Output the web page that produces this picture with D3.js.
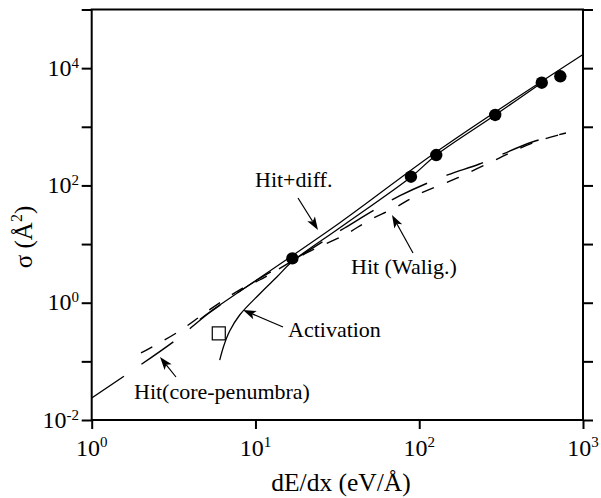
<!DOCTYPE html>
<html>
<head>
<meta charset="utf-8">
<script src="https://cdn.jsdelivr.net/npm/d3@7"></script>
<style>
  body { margin: 0; background: #fff; }
  svg { display: block; }
  text { font-family: "Liberation Serif", "Times New Roman", serif; fill: #000; }
</style>
</head>
<body>
<svg id="chart" width="601" height="498"></svg>
<script>
// Measured cross sections (filled circles)
const measuredDEdx  = [16.8, 89, 127, 291, 560, 727];
const measuredSigma = [5.7, 141, 330, 1590, 5650, 7260];

// Single open-square point
const openDEdx  = [5.97];
const openSigma = [0.30];

// Hit + diffusion model (solid)
const hitDiffDEdx  = [4.57, 5.26, 32.6, 132, 1000];
const hitDiffSigma = [0.52, 0.694, 22.9, 402, 17100];

// Activation model (solid)
const activationDEdx  = [6.05, 6.40, 6.96, 8.01, 10.6, 13.5, 16.65, 32.6, 89.5, 127, 291, 560];
const activationSigma = [0.105, 0.183, 0.329, 0.617, 1.41, 2.74, 4.94, 18.8, 141, 330, 1590, 5650];

// Hit, core-penumbra track model (long dashes)
const corePenDEdx  = [1.0, 3.26, 5.26, 10.6, 18.6, 35.0, 75.7, 149, 233, 490, 787];
const corePenSigma = [0.0237, 0.231, 0.681, 2.59, 6.25, 18.8, 66.1, 151, 232, 550, 783];

// Hit, Waligorski track model (short dashes)
const waligDEdx  = [2.0, 3.36, 5.11, 8.36, 10.6, 20.5, 35.0, 49.8, 70.6, 100, 171, 308, 490, 787];
const waligSigma = [0.139, 0.316, 0.723, 1.78, 2.44, 7.05, 14.3, 25.7, 41.2, 71.4, 134, 293, 528, 783];

// Axis ticks
const xTickValues = [1, 10, 100, 1000];
const xTickExponents = ["0", "1", "2", "3"];
const yTickValues = [1e-2, 1e-1, 1, 10, 100, 1e3, 1e4, 1e5];
const yLabelValues = [1e-2, 1, 100, 1e4];
const yLabelExponents = ["-2", "0", "2", "4"];

const svg = d3.select("#chart");
const plotL = 91.7, plotR = 583, plotT = 9.5, plotB = 420;

const x = d3.scaleLog().domain([1, 1000]).range([plotL, plotR]);
const y = d3.scaleLog().domain([1e-2, 1e5]).range([plotB, plotT]);

const zip = (xs, ys) => xs.map((v, i) => [v, ys[i]]);
const line = d3.line().x(d => x(d[0])).y(d => y(d[1])).curve(d3.curveCatmullRom.alpha(0.5));

// Model curves
const curves = [
  { pts: zip(corePenDEdx, corePenSigma), dash: "39 21", w: 1.4 },
  { pts: zip(waligDEdx, waligSigma), dash: "13 14", w: 1.4 },
  { pts: zip(hitDiffDEdx, hitDiffSigma), dash: null, w: 1.2 },
  { pts: zip(activationDEdx, activationSigma), dash: null, w: 1.3 }
];
svg.append("g").selectAll("path").data(curves).join("path")
  .attr("d", d => line(d.pts))
  .attr("fill", "none")
  .attr("stroke", "#000")
  .attr("stroke-width", d => d.w)
  .attr("stroke-dasharray", d => d.dash);

// Measured points
svg.append("g").selectAll("circle").data(zip(measuredDEdx, measuredSigma)).join("circle")
  .attr("cx", d => x(d[0])).attr("cy", d => y(d[1])).attr("r", 6.2).attr("fill", "#000");

const sq = 13;
svg.append("g").selectAll("rect").data(zip(openDEdx, openSigma)).join("rect")
  .attr("x", d => x(d[0]) - sq / 2).attr("y", d => y(d[1]) - sq / 2)
  .attr("width", sq).attr("height", sq)
  .attr("fill", "#fff").attr("stroke", "#000").attr("stroke-width", 1.2);

// Frame and ticks
svg.append("rect").attr("x", plotL).attr("y", plotT)
  .attr("width", plotR - plotL).attr("height", plotB - plotT)
  .attr("fill", "none").attr("stroke", "#000").attr("stroke-width", 2);

function styleAxis(g) {
  g.select(".domain").remove();
  g.selectAll(".tick line").attr("stroke", "#000").attr("stroke-width", 2);
  g.selectAll(".tick text").remove();
}
svg.append("g").attr("transform", `translate(0,${plotB})`)
  .call(d3.axisBottom(x).tickValues(xTickValues).tickSize(9).tickFormat(""))
  .call(styleAxis);
svg.append("g").attr("transform", `translate(${plotL},0)`)
  .call(d3.axisLeft(y).tickValues(yTickValues).tickSize(10).tickFormat(""))
  .call(styleAxis);
svg.append("g").attr("transform", `translate(${plotR},0)`)
  .call(d3.axisRight(y).tickValues(yTickValues).tickSize(10).tickFormat(""))
  .call(styleAxis);

// Tick labels as powers of ten
const xl = svg.append("g").selectAll("text").data(xTickValues).join("text")
  .attr("x", d => x(d)).attr("y", 456).attr("text-anchor", "middle")
  .style("font-size", "24px");
xl.append("tspan").text("10");
xl.append("tspan").attr("dy", -9).style("font-size", "15px").text((d, i) => xTickExponents[i]);

const yl = svg.append("g").selectAll("text").data(yLabelValues).join("text")
  .attr("x", 79).attr("y", d => y(d) + 7.5).attr("text-anchor", "end")
  .style("font-size", "24px");
yl.append("tspan").text("10");
yl.append("tspan").attr("dy", -8).style("font-size", "15px").text((d, i) => yLabelExponents[i]);

// Axis titles
svg.append("text").attr("x", 341).attr("y", 491).attr("text-anchor", "middle")
  .style("font-size", "25.5px").text("dE/dx (eV/Å)");

const yt = svg.append("text").attr("transform", "translate(32,237) rotate(-90)")
  .attr("text-anchor", "middle").style("font-size", "25px");
yt.append("tspan").text("σ (Å");
yt.append("tspan").attr("dy", -10).style("font-size", "16px").text("2");
yt.append("tspan").attr("dy", 10).text(")");

// Curve annotations with arrows
const notes = [
  { text: "Hit+diff.", tx: 255, ty: 187, from: [298, 198], to: [318, 230] },
  { text: "Activation", tx: 288, ty: 337, from: [283, 327], to: [243, 310] },
  { text: "Hit (Walig.)", tx: 351, ty: 274, from: [413, 253], to: [392, 215] },
  { text: "Hit(core-penumbra)", tx: 134, ty: 399, from: [176, 377], to: [160, 357] }
];
const ng = svg.append("g");
notes.forEach(n => {
  ng.append("text").attr("x", n.tx).attr("y", n.ty).style("font-size", "22px").text(n.text);
  const [x0, y0] = n.from, [x1, y1] = n.to;
  const a = Math.atan2(y1 - y0, x1 - x0);
  const L = 13, W = 4.5;
  const bx = x1 - L * Math.cos(a), by = y1 - L * Math.sin(a);
  const nx = -Math.sin(a), ny = Math.cos(a);
  ng.append("line").attr("x1", x0).attr("y1", y0).attr("x2", bx + 3 * Math.cos(a)).attr("y2", by + 3 * Math.sin(a))
    .attr("stroke", "#000").attr("stroke-width", 1.2);
  const notchX = x1 - (L - 3) * Math.cos(a), notchY = y1 - (L - 3) * Math.sin(a);
  ng.append("path")
    .attr("d", `M${x1},${y1}L${bx + W * nx},${by + W * ny}L${notchX},${notchY}L${bx - W * nx},${by - W * ny}Z`)
    .attr("fill", "#000");
});
</script>
</body>
</html>
